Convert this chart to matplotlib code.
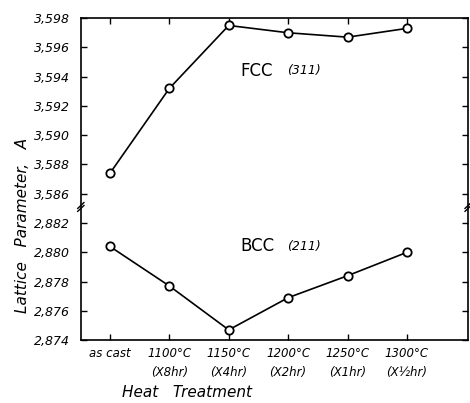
import matplotlib
matplotlib.use("Agg")
import matplotlib.pyplot as plt
import numpy as np

# heat treatment categories
treat_top = ["as cast", "1100°C", "1150°C", "1200°C", "1250°C", "1300°C"]
treat_bot = ["", "(X8hr)", "(X4hr)", "(X2hr)", "(X1hr)", "(X½hr)"]

# lattice parameters (A)
fcc_311 = [3.5874, 3.5932, 3.5975, 3.5970, 3.5967, 3.5973]
bcc_211 = [2.8804, 2.8777, 2.8747, 2.8769, 2.8784, 2.8800]

fcc_ticks = [3.586, 3.588, 3.590, 3.592, 3.594, 3.596, 3.598]
bcc_ticks = [2.874, 2.876, 2.878, 2.880, 2.882]

step = 0.002
# broken axis: map both ranges onto one continuous scale
def bcc_pos(v):
    return (np.asarray(v) - bcc_ticks[0]) / step

def fcc_pos(v):
    return (np.asarray(v) - fcc_ticks[0]) / step + len(bcc_ticks)

plt.rcParams['font.family'] = ['DejaVu Sans']

fig = plt.figure(figsize=(4.70, 4.03), dpi=100)
ax = fig.add_axes([0.172, 0.156, 0.824, 0.799])

x = np.arange(len(treat_top))
mk = dict(marker='o', markersize=6, markerfacecolor='white',
          markeredgecolor='black', markeredgewidth=1.3, color='black', lw=1.2)
ax.plot(x, fcc_pos(fcc_311), **mk)
ax.plot(x, bcc_pos(bcc_211), **mk)

ax.set_xlim(-0.49, 6.03)
ax.set_ylim(0, 11)

yt = list(bcc_pos(bcc_ticks)) + list(fcc_pos(fcc_ticks))
yl = ["{:.3f}".format(v).replace(".", ",") for v in bcc_ticks + fcc_ticks]
ax.set_yticks(yt)
ax.set_yticklabels(yl, fontstyle='italic', fontsize=9)
ax.set_xticks(x)
ax.set_xticklabels([])

ax.tick_params(axis='both', direction='in', length=4, width=1,
               top=True, right=True)
ax.tick_params(axis='y', pad=8)
for s in ax.spines.values():
    s.set_linewidth(1.2)

for xi, a, b in zip(x, treat_top, treat_bot):
    ax.text(xi, -0.45, a, ha='center', va='center', fontstyle='italic', fontsize=8.5)
    if b:
        ax.text(xi, -1.1, b, ha='center', va='center', fontstyle='italic', fontsize=8.5)

# break marks on both spines
yb = 4.55
for xa in (0.0, 1.0):
    ax.plot([xa - 0.008, xa + 0.008], [yb - 0.15, yb + 0.05], transform=ax.get_yaxis_transform(),
            color='black', lw=1, clip_on=False)
    ax.plot([xa - 0.008, xa + 0.008], [yb - 0.05, yb + 0.15], transform=ax.get_yaxis_transform(),
            color='black', lw=1, clip_on=False)

ax.text(2.2, 9.2, "FCC", fontsize=12, va='center')
ax.text(2.98, 9.2, "(311)", fontsize=9, fontstyle='italic', va='center')
ax.text(2.2, 3.2, "BCC", fontsize=12, va='center')
ax.text(2.98, 3.2, "(211)", fontsize=9, fontstyle='italic', va='center')

fig.text(0.047, 0.44, "Lattice   Parameter,   A", rotation=90, ha='center', va='center',
         fontstyle='italic', fontsize=11)
fig.text(0.398, 0.027, "Heat   Treatment", ha='center', va='center',
         fontstyle='italic', fontsize=11)

plt.savefig("out.png", dpi=100)
